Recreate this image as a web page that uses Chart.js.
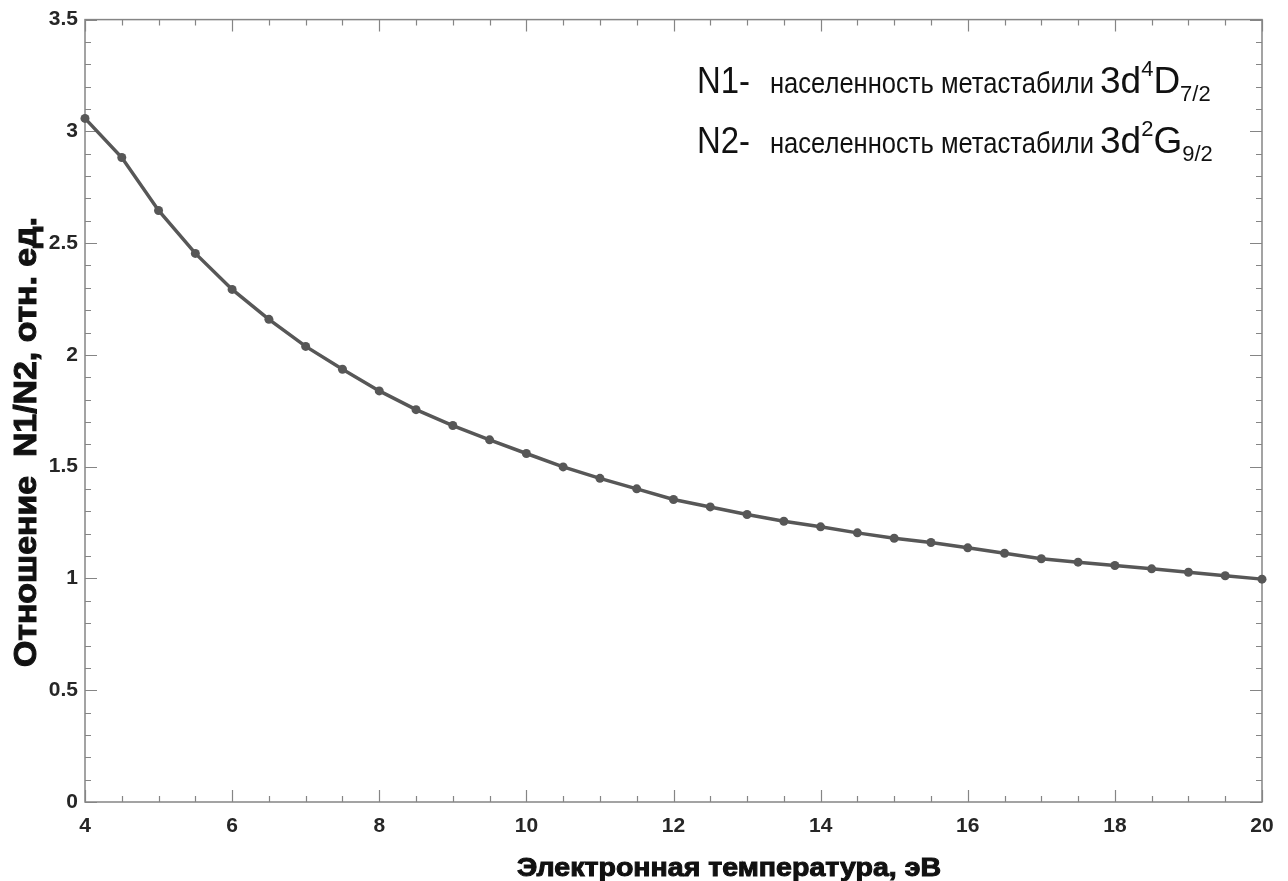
<!DOCTYPE html>
<html>
<head>
<meta charset="utf-8">
<title>N1/N2</title>
<script src="https://cdn.jsdelivr.net/npm/chart.js@4.4.1/dist/chart.umd.min.js"></script>
<style>
  html, body { margin: 0; padding: 0; background: #fff; }
  #wrap { width: 1288px; height: 881px; }
</style>
</head>
<body>
<div id="wrap"><canvas id="ratioChart" width="1288" height="881"></canvas></div>
<script>
// temperature, eV
const temperatures = [4, 4.5, 5, 5.5, 6, 6.5, 7, 7.5, 8, 8.5, 9, 9.5, 10, 10.5, 11, 11.5,
    12, 12.5, 13, 13.5, 14, 14.5, 15, 15.5, 16, 16.5, 17, 17.5, 18, 18.5, 19, 19.5, 20];
// population ratio N1/N2
const ratioN1N2 = [3.058, 2.883, 2.646, 2.454, 2.293, 2.159, 2.038, 1.936, 1.839, 1.755, 1.684,
    1.620, 1.559, 1.499, 1.448, 1.401, 1.353, 1.320, 1.286, 1.256, 1.231, 1.204, 1.180, 1.161,
    1.137, 1.113, 1.088, 1.073, 1.058, 1.043, 1.028, 1.012, 0.997];

const xTitle = 'Электронная температура, эВ';
const yTitle = 'Отношение  N1/N2, отн. ед.';
const noteLines = [
    { name: 'N1-', text: 'населенность метастабили', level: '3d', sup: '4', term: 'D', sub: '7/2' },
    { name: 'N2-', text: 'населенность метастабили', level: '3d', sup: '2', term: 'G', sub: '9/2' }
];

const lineColor = '#575757';
const axisColor = '#858585';

// draw text squeezed/stretched to a given width
function fitText(ctx, text, x, y, width, heavy) {
    const w = ctx.measureText(text).width;
    ctx.save();
    ctx.translate(x, y);
    ctx.scale(width / w, 1);
    ctx.fillText(text, 0, 0);
    if (heavy) {
        ctx.lineWidth = heavy;
        ctx.strokeText(text, 0, 0);
    }
    ctx.restore();
}

const frame = {
    id: 'frame',
    beforeDatasetsDraw(chart) {
        const { ctx, chartArea: a, scales: { x, y } } = chart;
        ctx.save();
        ctx.strokeStyle = axisColor;
        ctx.lineWidth = 1.5;
        ctx.strokeRect(a.left, a.top, a.right - a.left, a.bottom - a.top);

        ctx.lineWidth = 1.2;
        ctx.beginPath();
        for (let i = 0; i <= 32; i++) {
            const v = x.min + i * 0.5;
            const px = Math.round(x.getPixelForValue(v)) + 0.5;
            const len = (v % 2 === 0) ? 12 : 6;
            ctx.moveTo(px, a.bottom); ctx.lineTo(px, a.bottom - len);
            ctx.moveTo(px, a.top); ctx.lineTo(px, a.top + len);
        }
        for (let i = 0; i <= 35; i++) {
            const v = i * 0.1;
            const py = Math.round(y.getPixelForValue(v)) + 0.5;
            const len = (i % 5 === 0) ? 12 : 6;
            ctx.moveTo(a.left, py); ctx.lineTo(a.left + len, py);
            ctx.moveTo(a.right, py); ctx.lineTo(a.right - len, py);
        }
        ctx.stroke();
        ctx.restore();
    },
    afterDraw(chart) {
        const { ctx } = chart;
        ctx.save();
        ctx.fillStyle = '#111';
        ctx.strokeStyle = '#111';
        ctx.textBaseline = 'alphabetic';

        // axis titles
        ctx.font = 'bold 26px "Liberation Sans"';
        ctx.textAlign = 'center';
        fitText(ctx, xTitle, 729, 876, 424, 1);

        ctx.save();
        ctx.translate(36, 442);
        ctx.rotate(-Math.PI / 2);
        ctx.font = 'bold 31px "Liberation Sans"';
        fitText(ctx, yTitle, 0, 0, 450, 1);
        ctx.restore();

        // annotation in the upper right
        ctx.textAlign = 'left';
        noteLines.forEach((ln, i) => {
            const base = 93 + i * 60;
            ctx.font = '36px "Liberation Sans"';
            fitText(ctx, ln.name, 697, base, 53);
            ctx.font = '30px "Liberation Sans"';
            fitText(ctx, ln.text, 770, base, 324);
            let cx = 1100;
            ctx.font = '37px "Liberation Sans"';
            ctx.fillText(ln.level, cx, base);
            cx += ctx.measureText(ln.level).width;
            ctx.font = '22px "Liberation Sans"';
            ctx.fillText(ln.sup, cx, base - 17);
            cx += ctx.measureText(ln.sup).width;
            ctx.font = '37px "Liberation Sans"';
            ctx.fillText(ln.term, cx, base);
            cx += ctx.measureText(ln.term).width;
            ctx.font = '22px "Liberation Sans"';
            ctx.fillText(ln.sub, cx, base + 8);
        });
        ctx.restore();
    }
};

new Chart(document.getElementById('ratioChart'), {
    type: 'line',
    data: {
        datasets: [{
            data: temperatures.map((t, i) => ({ x: t, y: ratioN1N2[i] })),
            borderColor: lineColor,
            backgroundColor: lineColor,
            borderWidth: 3.5,
            pointRadius: 4.5,
            pointBorderWidth: 0,
            pointBackgroundColor: lineColor,
            tension: 0,
            clip: false
        }]
    },
    options: {
        responsive: false,
        animation: false,
        layout: { padding: { top: 19, right: 26, left: 0, bottom: 0 } },
        plugins: { legend: { display: false }, tooltip: { enabled: false } },
        scales: {
            x: {
                type: 'linear',
                min: 4,
                max: 20,
                afterFit(s) { s.height = 79; },
                grid: { display: false, drawTicks: false },
                border: { display: false },
                ticks: {
                    stepSize: 2,
                    padding: 12,
                    color: '#262626',
                    font: { family: 'Liberation Sans', weight: 'bold', size: 21 }
                }
            },
            y: {
                min: 0,
                max: 3.5,
                afterFit(s) { s.width = 85; },
                grid: { display: false, drawTicks: false },
                border: { display: false },
                ticks: {
                    stepSize: 0.5,
                    padding: 7,
                    color: '#262626',
                    font: { family: 'Liberation Sans', weight: 'bold', size: 21 },
                    callback: v => String(v)
                }
            }
        }
    },
    plugins: [frame]
});
</script>
</body>
</html>
